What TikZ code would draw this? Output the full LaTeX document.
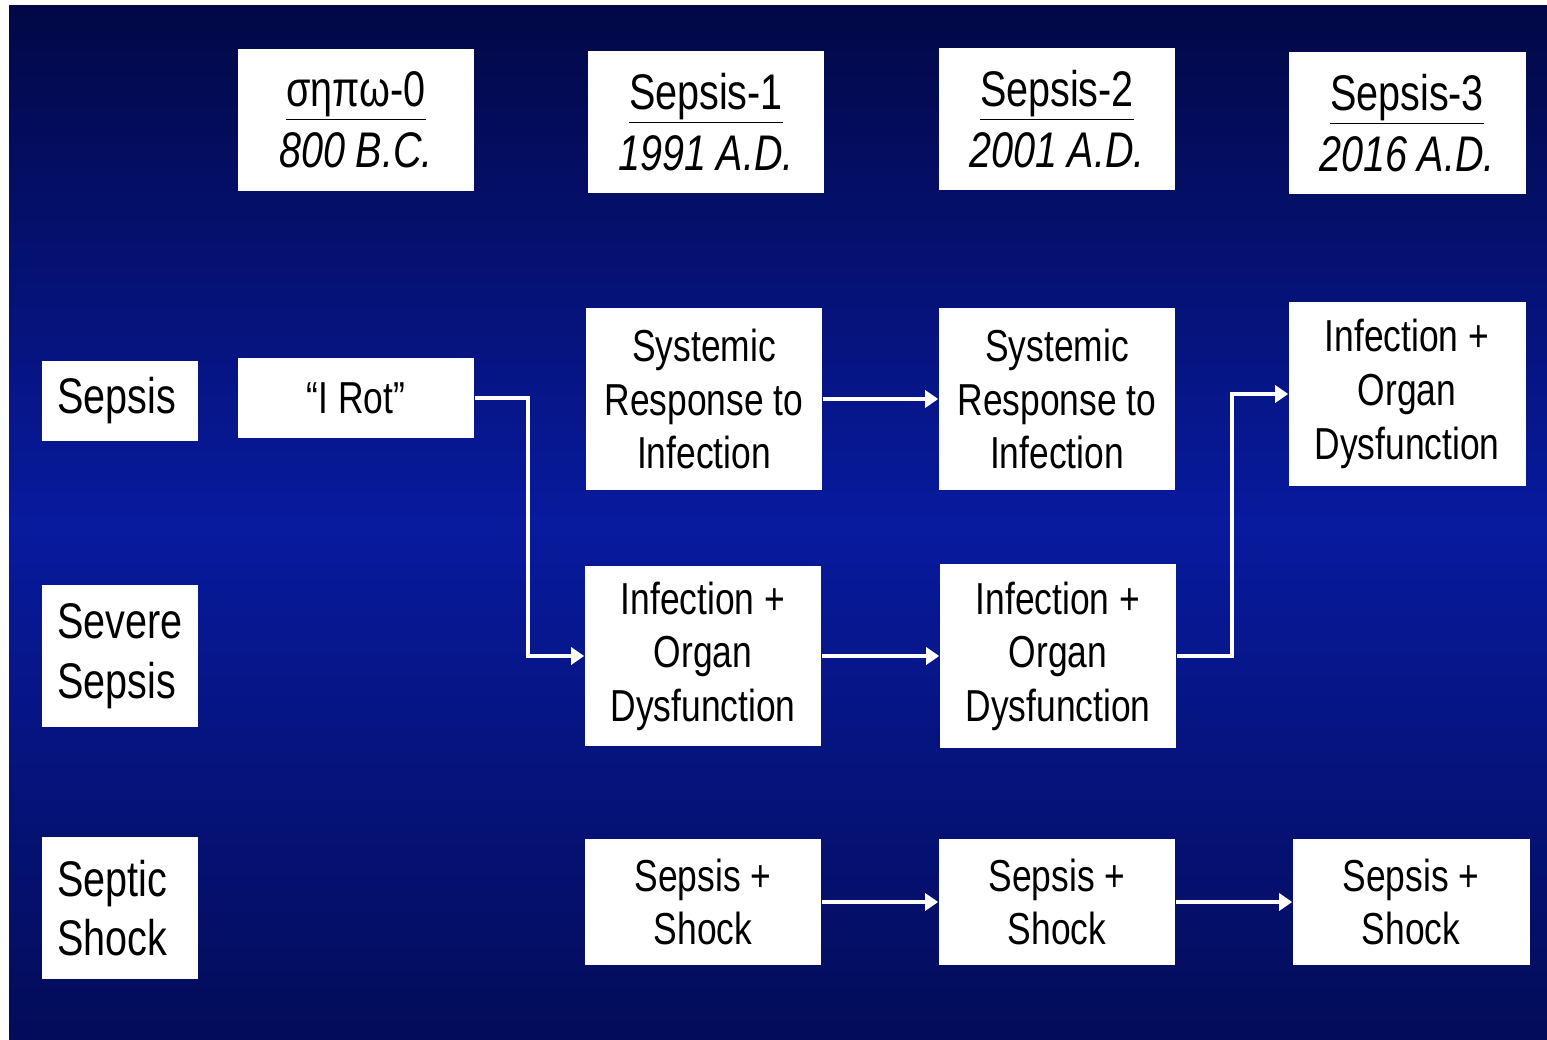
\documentclass[tikz,border=0pt]{standalone}
\usepackage{fontspec}
\setmainfont[FakeStretch=0.79]{Liberation Sans}
\usetikzlibrary{arrows.meta,calc,positioning}

\definecolor{bgtop}{RGB}{2,8,70}
\definecolor{bgmid}{RGB}{8,26,158}
\definecolor{bgbot}{RGB}{3,12,88}

\begin{document}
\begin{tikzpicture}[x=0.02cm,y=-0.02cm,
    box/.style={fill=white,inner sep=0pt,align=center,
    minimum width=4.74cm,font=\fontsize{25.5}{30.5}\selectfont},
    head/.style={box,minimum height=2.84cm,
    font=\fontsize{28.5}{34.5}\selectfont},
    side/.style={box,align=left,text width=2.5cm,
    inner xsep=.32cm,minimum width=3.14cm,
    font=\fontsize{28.5}{34}\selectfont},
    flow/.style={draw=white,line width=2.2pt,
    -{Triangle[length=.26cm,width=.34cm]}}]

  \useasboundingbox (0,0) rectangle (1547,1040);
  \fill[white] (0,0) rectangle (1547,1040);
  \shade[top color=bgtop,bottom color=bgbot,middle color=bgmid]
    (9,6) rectangle (1547,1040);

  % eras
  \node[head] (H0) at (356,120) {\underline{σηπω-0}\\\textit{800 B.C.}};
  \node[head] (H1) at (706,122) {\underline{Sepsis-1}\\\textit{1991 A.D.}};
  \node[head] (H2) at (1057,119) {\underline{Sepsis-2}\\\textit{2001 A.D.}};
  \node[head] (H3) at (1407,123) {\underline{Sepsis-3}\\\textit{2016 A.D.}};

  % terms
  \node[side,minimum height=1.6cm] (SEP) at (120,401) {Sepsis};
  \node[side,minimum height=2.86cm] (SEV) at (120,656) {Severe\\Sepsis};
  \node[side,minimum height=2.86cm] (SHK) at (120,908) {Septic\\Shock};

  \node[box,minimum height=1.6cm] (ROT) at (356,398) {``I Rot''};

  \node[box,minimum height=3.64cm] (SYS1) at (704,399) {Systemic\\Response to\\Infection};
  \node[box,minimum height=3.64cm] (SYS2) at (1057,399) {Systemic\\Response to\\Infection};
  \node[box,minimum height=3.68cm] (ORG3) at (1407,394) {Infection +\\Organ\\Dysfunction};

  \node[box,minimum height=3.62cm] (ORG1) at (703,656) {Infection +\\Organ\\Dysfunction};
  \node[box,minimum height=3.68cm] (ORG2) at (1058,656) {Infection +\\Organ\\Dysfunction};

  \node[box,minimum height=2.54cm] (SS1) at (703,902) {Sepsis +\\Shock};
  \node[box,minimum height=2.54cm] (SS2) at (1057,902) {Sepsis +\\Shock};
  \node[box,minimum height=2.54cm] (SS3) at (1411,902) {Sepsis +\\Shock};

  \draw[flow] (ROT.east) -- ++(53,0) |- (ORG1.west);
  \draw[flow] (SYS1.east) -- (SYS2.west);
  \draw[flow] (ORG1.east) -- (ORG2.west);
  \draw[flow] (ORG2.east) -- ++(55,0) |- (ORG3.west);
  \draw[flow] (SS1.east) -- (SS2.west);
  \draw[flow] (SS2.east) -- (SS3.west);

\end{tikzpicture}
\end{document}
